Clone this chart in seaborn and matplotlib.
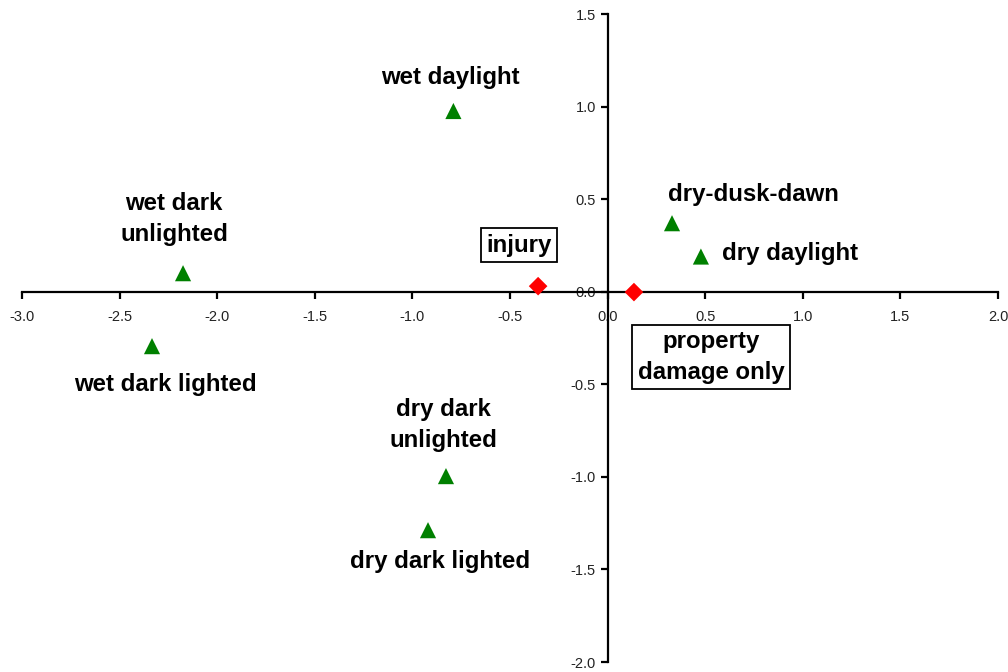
import pandas as pd
import seaborn as sns
import matplotlib.pyplot as plt

# condition points (green triangles)
conditions = ['wet daylight', 'wet dark\nunlighted', 'wet dark lighted', 'dry dark\nunlighted',
              'dry dark lighted', 'dry-dusk-dawn', 'dry daylight']
cond_x = [-0.79, -2.175, -2.334, -0.828, -0.92, 0.33, 0.478]
cond_y = [0.976, 0.10, -0.294, -0.996, -1.288, 0.37, 0.19]

# severity points (red diamonds)
severities = ['injury', 'property\ndamage only']
sev_x = [-0.356, 0.135]
sev_y = [0.03, -0.002]

# label anchors (data coords)
cond_lab_x = [-0.807, -2.22, -2.263, -0.843, -0.859, 0.745, 0.586]
cond_lab_y = [1.159, 0.392, -0.499, -0.721, -1.456, 0.527, 0.209]
cond_lab_ha = ['center', 'center', 'center', 'center', 'center', 'center', 'left']
sev_lab_x = [-0.454, 0.53]
sev_lab_y = [0.252, -0.353]

x_ticks = [-3.0, -2.5, -2.0, -1.5, -1.0, -0.5, 0.0, 0.5, 1.0, 1.5, 2.0]
y_ticks = [-2.0, -1.5, -1.0, -0.5, 0.0, 0.5, 1.0, 1.5]

df = pd.DataFrame({
    'x': cond_x + sev_x,
    'y': cond_y + sev_y,
    'kind': ['condition'] * len(cond_x) + ['severity'] * len(sev_x),
})

sns.set_style('white')
plt.rcParams['font.family'] = ['Liberation Sans', 'DejaVu Sans']
plt.rcParams['text.color'] = 'black'

fig = plt.figure(figsize=(10.08, 6.72), dpi=100)
ax = fig.add_axes([22 / 1008, 1 - 662 / 672, 976 / 1008, 648 / 672])

pal = {'condition': '#008000', 'severity': '#ff0000'}
mk = {'condition': '^', 'severity': 'D'}
cond_df = df[df['kind'] == 'condition']
sev_df = df[df['kind'] == 'severity']
sns.scatterplot(data=cond_df, x='x', y='y', hue='kind', style='kind', palette=pal, markers=mk,
                s=135, linewidth=0, legend=False, ax=ax, zorder=3)
sns.scatterplot(data=sev_df, x='x', y='y', hue='kind', style='kind', palette=pal, markers=mk,
                s=90, linewidth=0, legend=False, ax=ax, zorder=3)

ax.set_xlim(-3.0, 2.0)
ax.set_ylim(-2.0, 1.5)
ax.set_xticks(x_ticks)
ax.set_yticks(y_ticks)
ax.set_xticklabels(['%.1f' % v for v in x_ticks])
ax.set_yticklabels(['%.1f' % v for v in y_ticks])
ax.set_xlabel('')
ax.set_ylabel('')

ax.spines['left'].set_position(('data', 0))
ax.spines['bottom'].set_position(('data', 0))
ax.spines['right'].set_visible(False)
ax.spines['top'].set_visible(False)
for sp in ('left', 'bottom'):
    ax.spines[sp].set_linewidth(1.6)
    ax.spines[sp].set_color('black')
ax.tick_params(axis='both', direction='out', length=5, width=1.6, colors='black',
               labelcolor='#222222', labelsize=10.5, bottom=True, left=True)
ax.tick_params(axis='x', pad=8)

for lab, lx, ly, ha in zip(conditions, cond_lab_x, cond_lab_y, cond_lab_ha):
    ax.text(lx, ly, lab, ha=ha, va='center', fontsize=17.3, fontweight='bold',
            linespacing=1.42, color='black', zorder=4)

for lab, lx, ly in zip(severities, sev_lab_x, sev_lab_y):
    ax.text(lx, ly, lab, ha='center', va='center', fontsize=17.3, fontweight='bold',
            linespacing=1.42, color='black', zorder=4,
            bbox=dict(boxstyle='square,pad=0.22', facecolor='white', edgecolor='black', linewidth=1.3))

fig.savefig('out.png', dpi=100)
